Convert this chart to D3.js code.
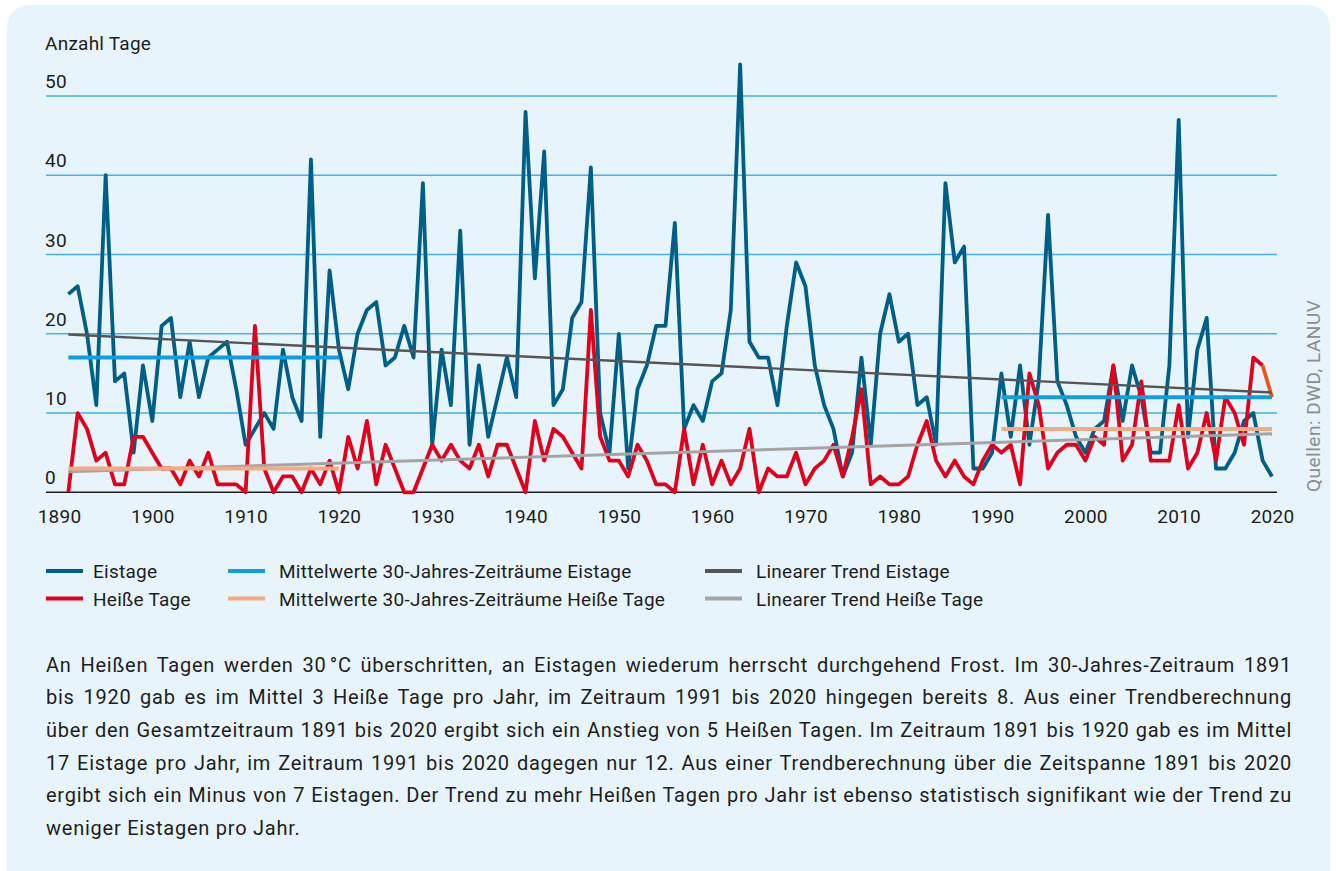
<!DOCTYPE html>
<html><head><meta charset="utf-8">
<script src="https://cdn.jsdelivr.net/npm/d3@7"></script>
<style>
html,body{margin:0;padding:0;background:#fff;}
#wrap{position:relative;width:1336px;height:871px;overflow:hidden;}
#panel{position:absolute;left:7px;top:5px;width:1323px;height:890px;background:#e8f4fc;border-radius:22px;}
svg{position:absolute;left:0;top:0;}
#txt{position:absolute;left:46px;top:648.5px;width:1246px;font-family:Roboto,"Noto Sans",sans-serif;font-size:20px;letter-spacing:0.76px;line-height:32.7px;color:#1d1d1b;}
#txt div{text-align:justify;text-align-last:justify;white-space:nowrap;}
#txt div.last{text-align-last:left;}
</style></head>
<body><div id="wrap"><div id="panel"></div><svg id="chart" width="1336" height="871"></svg><div id="txt"></div></div>
<script>
const years = d3.range(1891, 2021);
const eistage = [25,26,20,11,40,14,15,5,16,9,
 21,22,12,19,12,17,18,19,13,6,
 8,10,8,18,12,9,42,7,28,18,
 13,20,23,24,16,17,21,17,39,6,
 18,11,33,6,16,7,12,17,12,48,
 27,43,11,13,22,24,41,10,5,20,
 3,13,16,21,21,34,8,11,9,14,
 15,23,54,19,17,17,11,21,29,26,
 16,11,8,2,5,17,6,20,25,19,
 20,11,12,6,39,29,31,3,3,5,
 15,7,16,6,14,35,14,11,7,5,
 8,9,16,9,16,12,5,5,16,47,
 7,18,22,3,3,5,9,10,4,2];
const heisseTage = [0,10,8,4,5,1,1,7,7,5,
 3,3,1,4,2,5,1,1,1,0,
 21,3,0,2,2,0,3,1,4,0,
 7,3,9,1,6,3,0,0,3,6,
 4,6,4,3,6,2,6,6,3,0,
 9,4,8,7,5,3,23,7,4,4,
 2,6,4,1,1,0,8,1,6,1,
 4,1,3,8,0,3,2,2,5,1,
 3,4,6,2,7,13,1,2,1,1,
 2,6,9,4,2,4,2,1,4,6,
 5,6,1,15,11,3,5,6,6,4,
 7,6,16,4,6,14,4,4,4,11,
 3,5,10,4,12,10,6,17,16,12];
const periodStart = [1891, 1991];
const periodEnd = [1920, 2020];
const meanEistage = [17, 12];
const meanHeisse = [3, 8];
const trendYears = [1891, 2020];
const trendEistage = [19.9, 12.6];
const trendHeisse = [2.6, 7.4];
const xTicks = [1890,1900,1910,1920,1930,1940,1950,1960,1970,1980,1990,2000,2010,2020];
const yTicks = [0,10,20,30,40,50];
const legendLabels = ["Eistage","Heiße Tage","Mittelwerte 30-Jahres-Zeiträume Eistage","Mittelwerte 30-Jahres-Zeiträume Heiße Tage","Linearer Trend Eistage","Linearer Trend Heiße Tage"];
const textLines = [
"An Heißen Tagen werden 30\u202f°C überschritten, an Eistagen wiederum herrscht durchgehend Frost. Im 30-Jahres-Zeitraum 1891",
"bis 1920 gab es im Mittel 3 Heiße Tage pro Jahr, im Zeitraum 1991 bis 2020 hingegen bereits 8. Aus einer Trendberechnung",
"über den Gesamtzeitraum 1891 bis 2020 ergibt sich ein Anstieg von 5 Heißen Tagen. Im Zeitraum 1891 bis 1920 gab es im Mittel",
"17 Eistage pro Jahr, im Zeitraum 1991 bis 2020 dagegen nur 12. Aus einer Trendberechnung über die Zeitspanne 1891 bis 2020",
"ergibt sich ein Minus von 7 Eistagen. Der Trend zu mehr Heißen Tagen pro Jahr ist ebenso statistisch signifikant wie der Trend zu",
"weniger Eistagen pro Jahr."];

const C = {eis:"#005f87", heiss:"#e2001a", meanEis:"#0f9fe0", meanHeiss:"#f4aa82", trendEis:"#555555", trendHeiss:"#a4a4a4", grid:"#45b2e6", last:"#e8561b"};
const FONT = "Roboto, 'Noto Sans', sans-serif";
const FS = 19, LS = 0.25;

const svg = d3.select("#chart");
const x = d3.scaleLinear().domain([1890, 2020]).range([59, 1272]);
const y = d3.scaleLinear().domain([0, 50]).range([492.3, 96]);

// grid
svg.append("g").selectAll("line").data(yTicks.filter(d=>d>0)).join("line")
 .attr("x1",46).attr("x2",1277).attr("y1",d=>y(d)).attr("y2",d=>y(d))
 .attr("stroke",C.grid).attr("stroke-width",1.4);
svg.append("line").attr("x1",46).attr("x2",1277).attr("y1",y(0)).attr("y2",y(0)).attr("stroke","#1d1d1b").attr("stroke-width",1.6);

// y labels
svg.append("g").selectAll("text").data(yTicks).join("text")
 .attr("x",45).attr("y",d=>y(d)-8).text(d=>d)
 .attr("font-family",FONT).attr("font-size",FS).attr("letter-spacing",LS).attr("fill","#1d1d1b");
svg.append("text").attr("x",45).attr("y",50).text("Anzahl Tage")
 .attr("font-family",FONT).attr("font-size",FS).attr("letter-spacing",LS).attr("fill","#1d1d1b");

// x axis labels
const xAxis = d3.axisBottom(x).tickValues(xTicks).tickFormat(d3.format("d")).tickSize(0).tickPadding(0);
const xg = svg.append("g").attr("transform",`translate(0,${y(0)})`).call(xAxis);
xg.select(".domain").remove();
xg.selectAll("text").attr("y",31).attr("dy",0).attr("font-family",FONT).attr("font-size",FS).attr("letter-spacing",LS).attr("fill","#1d1d1b");

const line = d3.line().x(d=>x(d[0])).y(d=>y(d[1]));

// data lines
svg.append("path").datum(years.map((yr,i)=>[yr,eistage[i]]))
 .attr("d",line).attr("fill","none").attr("stroke",C.eis).attr("stroke-width",3.8).attr("stroke-linejoin","round");
const hData = years.map((yr,i)=>[yr,heisseTage[i]]);
svg.append("path").datum(hData.slice(0,-1))
 .attr("d",line).attr("fill","none").attr("stroke",C.heiss).attr("stroke-width",3.8).attr("stroke-linejoin","round");
svg.append("path").datum(hData.slice(-2))
 .attr("d",line).attr("fill","none").attr("stroke",C.last).attr("stroke-width",3.8);

// trends
svg.append("path").datum(trendYears.map((yr,i)=>[yr,trendEistage[i]]))
 .attr("d",line).attr("fill","none").attr("stroke",C.trendEis).attr("stroke-width",2.4);
svg.append("path").datum(trendYears.map((yr,i)=>[yr,trendHeisse[i]]))
 .attr("d",line).attr("fill","none").attr("stroke",C.trendHeiss).attr("stroke-width",3);

// means
periodStart.forEach((s,i)=>{
 svg.append("path").datum([[s,meanEistage[i]],[periodEnd[i],meanEistage[i]]])
  .attr("d",line).attr("stroke",C.meanEis).attr("stroke-width",4).attr("fill","none");
 svg.append("path").datum([[s,meanHeisse[i]],[periodEnd[i],meanHeisse[i]]])
  .attr("d",line).attr("stroke",C.meanHeiss).attr("stroke-width",4).attr("fill","none");
});

// legend
const legCols = [46,228,705], legRows = [571,598.5];
const legColors = [C.eis,C.heiss,C.meanEis,C.meanHeiss,C.trendEis,C.trendHeiss];
const leg = svg.append("g");
legendLabels.forEach((lab,i)=>{
 const cx = legCols[Math.floor(i/2)], cy = legRows[i%2];
 leg.append("line").attr("x1",cx).attr("x2",cx+37).attr("y1",cy).attr("y2",cy)
  .attr("stroke",legColors[i]).attr("stroke-width",4);
 leg.append("text").attr("x",cx+(i<2?47:51)).attr("y",cy+7).text(lab)
  .attr("font-family",FONT).attr("font-size",FS).attr("letter-spacing",LS).attr("fill","#1d1d1b");
});

// source
svg.append("text").attr("transform","translate(1320,492) rotate(-90)")
 .text("Quellen: DWD, LANUV").attr("font-family",FONT).attr("font-size",19).attr("letter-spacing",0.5).attr("fill","#8c8c8c");

// body text
d3.select("#txt").selectAll("div").data(textLines).join("div")
 .attr("class",(d,i)=>i===textLines.length-1?"last":null).text(d=>d);
</script></body></html>
